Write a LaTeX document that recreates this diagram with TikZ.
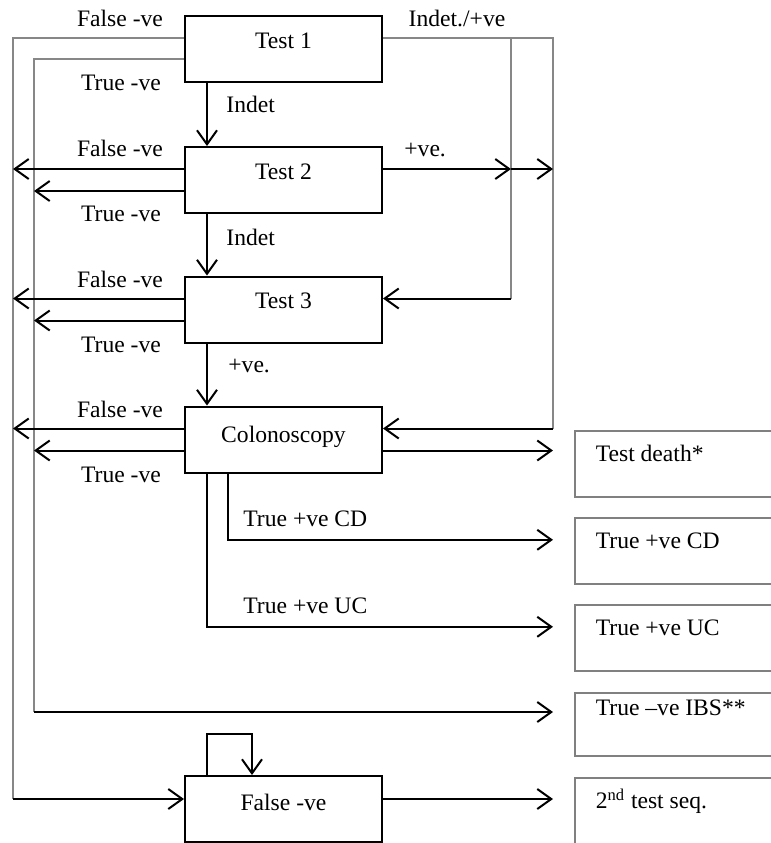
\documentclass[tikz,border=0pt]{standalone}
\usepackage{fontspec}
\setmainfont{Liberation Serif}
\usetikzlibrary{arrows.meta}
\definecolor{busgray}{RGB}{135,135,135}

\begin{document}
\begin{tikzpicture}[x=0.5pt,y=-0.5pt,>={Straight Barb[length=7pt,width=10pt]},
  txt/.style={font=\fontsize{11.8}{14}\selectfont},
  testbox/.style={txt,draw,line width=1pt,minimum width=98.5pt,inner sep=0pt,text height=16pt,text depth=17pt},
  endbox/.style={txt,draw=gray,line width=0.8pt,anchor=north west,text width=90pt,inner xsep=10.5pt,inner ysep=0pt,align=flush left,text height=15.5pt,text depth=17.5pt},
  bus/.style={draw=busgray,line width=0.8pt},
  arr/.style={->,line width=1pt},
  lbl/.style={txt,anchor=base,inner sep=0pt}]
  \useasboundingbox (0,0) rectangle (771,843);
  \clip (0,0) rectangle (771,843);
  % boxes of the sequence
  \node[testbox] (t1) at (283.5,49) {Test 1};
  \node[testbox] (t2) at (283.5,180) {Test 2};
  \node[testbox] (t3) at (283.5,309.5) {Test 3};
  \node[testbox,text height=18pt,text depth=15pt] (col) at (283.5,439.5) {Colonoscopy};
  \node[testbox,text height=17pt,text depth=16pt] (fn) at (283.5,809) {False -ve};
  % outcomes
  \node[endbox] (td) at (574,430) {Test death*};
  \node[endbox] (tcd) at (574,517) {True +ve CD};
  \node[endbox] (tuc) at (574,604) {True +ve UC};
  \node[endbox,text height=11.5pt,text depth=20pt] (ibs) at (574,692) {True –ve IBS**};
  \node[endbox] (seq) at (574,777) {2\textsuperscript{nd} test seq.};
  % turning points
  \coordinate (lo) at (13,799);
  \coordinate (li) at (34,712);
  \coordinate (ri) at (511,38);
  \coordinate (ro) at (553,38);
  \coordinate (dn) at (207,0);
  \coordinate (cdx) at (228,0);
  \coordinate (lp) at (252,734);
  % buses from test 1
  \draw[bus] ([yshift=5.5pt]t1.west) -| (lo);
  \draw[bus] ([yshift=-5pt]t1.west) -| (li);
  \draw[bus] ([yshift=5.5pt]t1.east) -- (ro) -- ([yshift=5.5pt]col.east -| ro);
  \draw[bus] (ri) -- ([yshift=5.5pt]t3.east -| ri);
  % down the sequence
  \draw[arr] (t1.south -| dn) -- (t2.north -| dn);
  \draw[arr] (t2.south -| dn) -- (t3.north -| dn);
  \draw[arr] (t3.south -| dn) -- (col.north -| dn);
  % negatives to the left
  \foreach \b in {t2,t3,col}{
    \draw[arr] ([yshift=5.5pt]\b.west) -- ([yshift=5.5pt]\b.west -| lo);
    \draw[arr] ([yshift=-5.5pt]\b.west) -- ([yshift=-5.5pt]\b.west -| li);
  }
  % positives to the right
  \draw[arr] ([yshift=5.5pt]t2.east) -- ([yshift=5.5pt]t2.east -| ri);
  \draw[arr] ([yshift=5.5pt]t2.east -| ri) -- ([yshift=5.5pt]t2.east -| ro);
  \draw[arr] ([yshift=5.5pt]t3.east -| ri) -- ([yshift=5.5pt]t3.east);
  \draw[arr] ([yshift=5.5pt]col.east -| ro) -- ([yshift=5.5pt]col.east);
  \draw[arr,shorten >=10.5pt] ([yshift=-5.5pt]col.east) -- ([yshift=-5.5pt]col.east -| td.west);
  \draw[arr,shorten >=10.5pt] (col.south -| cdx) |- ([yshift=5.5pt]tcd.west);
  \draw[arr,shorten >=10.5pt] (col.south -| dn) |- ([yshift=5.5pt]tuc.west);
  \draw[arr,shorten >=10.5pt] (li) -- (li -| ibs.west);
  \draw[arr] (lo) -- (lo -| fn.west);
  \draw[arr,shorten >=10.5pt] (lo -| fn.east) -- (lo -| seq.west);
  \draw[arr] (fn.north -| dn) |- (lp) -- (lp |- fn.north);
  % labels
  \node[lbl] (f1) at (120,26) {False -ve};
  \node[lbl] (n1) at (121,90) {True -ve};
  \node[lbl,anchor=base west] (i1) at (226,112) {Indet};
  \node[lbl] (p1) at (457,26) {Indet./+ve};
  \node[lbl] (f2) at (120,156) {False -ve};
  \node[lbl] (n2) at (121,221) {True -ve};
  \node[lbl,anchor=base west] (p2) at (404,156) {+ve.};
  \node[lbl,anchor=base west] (i2) at (226,245) {Indet};
  \node[lbl] (f3) at (120,287) {False -ve};
  \node[lbl] (n3) at (121,352) {True -ve};
  \node[lbl,anchor=base west] (p3) at (228,372) {+ve.};
  \node[lbl] (f4) at (120,417) {False -ve};
  \node[lbl] (n4) at (121,482) {True -ve};
  \node[lbl,anchor=base west] (lcd) at (243,526) {True +ve CD};
  \node[lbl,anchor=base west] (luc) at (243,613) {True +ve UC};
\end{tikzpicture}
\end{document}
